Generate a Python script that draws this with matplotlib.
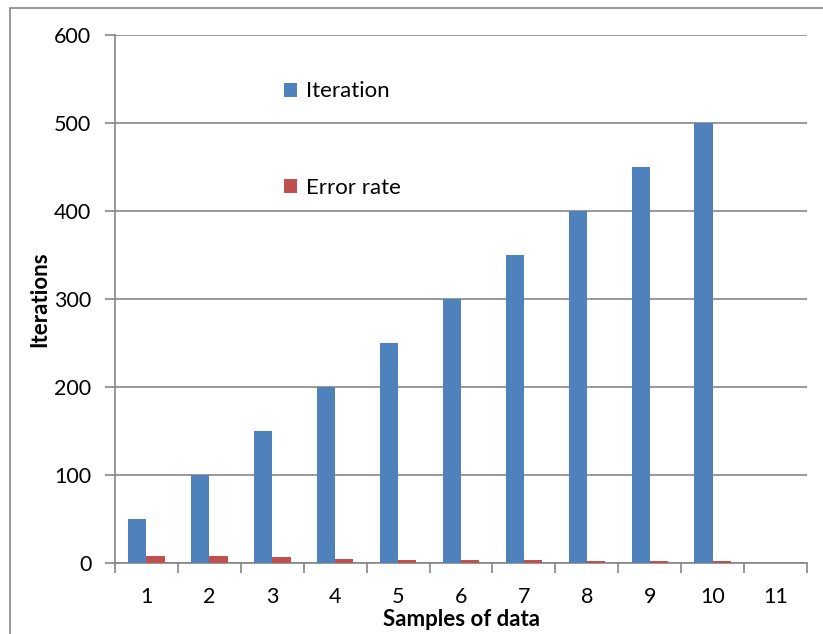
import matplotlib.pyplot as plt
import numpy as np
from matplotlib.patches import Rectangle

samples = [1, 2, 3, 4, 5, 6, 7, 8, 9, 10, 11]
iteration = [50, 100, 150, 200, 250, 300, 350, 400, 450, 500, 0]
error_rate = [8, 8, 7, 4.5, 3.5, 3.5, 3.5, 2.5, 2.5, 2.5, 0]

plt.rcParams['font.family'] = ['Lato', 'DejaVu Sans']

fig = plt.figure(figsize=(8.23, 6.34), dpi=100)
ax = fig.add_axes([0.1397, 0.112, 0.8409, 0.8328])

x = np.arange(len(samples))
w = 0.29
ax.bar(x - w / 2, iteration, w, color="#4F81BD", label="Iteration", zorder=3)
ax.bar(x + w / 2, error_rate, w, color="#C0504D", label="Error rate", zorder=3)

ax.set_xlim(-0.5, len(samples) - 0.5)
ax.set_ylim(0, 600)
ax.set_yticks(range(0, 601, 100))
ax.set_xticks(x)
ax.set_xticklabels([str(s) for s in samples])
ax.set_xticks(np.arange(-0.5, len(samples), 1), minor=True)

grey = "#868686"
ax.yaxis.grid(True, color=grey, linewidth=1.2, zorder=0)
for s in ["top", "right"]:
    ax.spines[s].set_visible(False)
ax.spines["left"].set_color(grey)
ax.spines["bottom"].set_color(grey)
ax.spines["left"].set_linewidth(1.2)
ax.spines["bottom"].set_linewidth(1.2)
ax.tick_params(axis="x", which="major", length=0, labelsize=15.5, pad=17)
ax.tick_params(axis="x", which="minor", length=7, color=grey, width=1.2)
ax.tick_params(axis="y", length=7, color=grey, width=1.2, labelsize=15.5, pad=10)

ax.set_xlabel("Samples of data", fontsize=16, fontweight="bold", labelpad=2)
ax.set_ylabel("Iterations", fontsize=16, fontweight="bold", labelpad=3)

ax.legend(loc="upper left", bbox_to_anchor=(0.215, 0.95), frameon=False,
          fontsize=16, labelspacing=3.45, handlelength=0.6, handleheight=0.6,
          handletextpad=0.4)

# outer chart frame
fig.patches.append(Rectangle((10 / 823, -0.1), 1.2, 1 - 8 / 634 + 0.1,
                             transform=fig.transFigure, fill=False,
                             edgecolor=grey, linewidth=1.2))

fig.savefig("out.png", dpi=100)
